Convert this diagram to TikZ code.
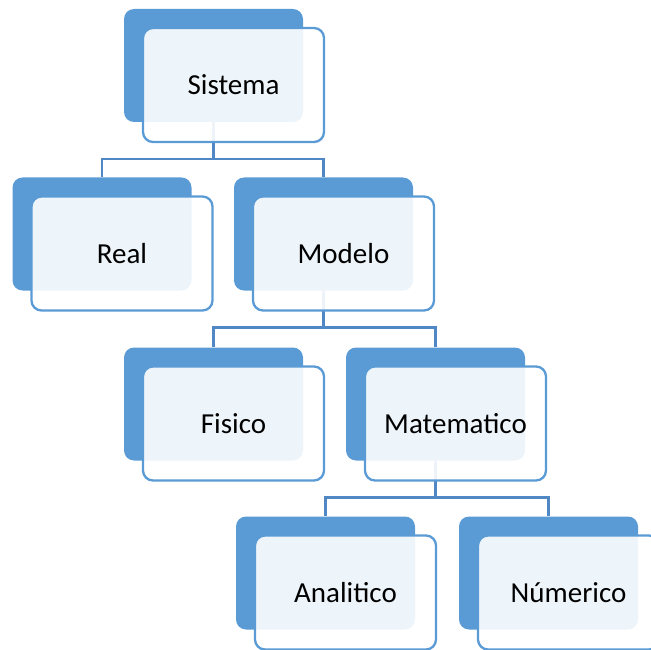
\documentclass[tikz,border=0pt]{standalone}
\usepackage{fontspec}
\setmainfont{Carlito}
\usetikzlibrary{positioning}
\definecolor{smartblue}{RGB}{91,155,213}
\definecolor{linkblue}{RGB}{79,136,196}

\begin{document}
\begin{tikzpicture}[x=1pt,y=-1pt,
  back/.style={rounded corners=10pt, fill=smartblue, minimum width=179pt, minimum height=113pt},
  front/.style={rounded corners=10pt, draw=smartblue, line width=2.3pt, fill=white, fill opacity=0.9, text opacity=1, minimum width=181pt, minimum height=114pt, font=\fontsize{29}{35}\selectfont},
  link/.style={draw=linkblue, line width=2.6pt}]
\clip (0,0) rectangle (651,650);
% back boxes
\node[back] (sis) at (213.5,65.5) {};
\node[back] (real) at (102,234) {};
\node[back] (mod) at (323.5,234) {};
\node[back] (fis) at (213.5,404) {};
\node[back] (mat) at (435.5,404) {};
\node[back] (ana) at (325.5,573) {};
\node[back] (num) at (548.5,573) {};
% connectors
\draw[link] (sis.south) -- ++(0,37) -| (real.north);
\draw[link] (sis.south) -- ++(0,37) -| (mod.north);
\draw[link] (mod.south) -- ++(0,37) -| (fis.north);
\draw[link] (mod.south) -- ++(0,37) -| (mat.north);
\draw[link] (mat.south) -- ++(0,37) -| (ana.north);
\draw[link] (mat.south) -- ++(0,37) -| (num.north);
% front boxes with text
\node[front] (sisf) at ([shift={(20,19.5)}]sis) {Sistema};
\node[front] (realf) at ([shift={(20,19.5)}]real) {Real};
\node[front] (modf) at ([shift={(20,19.5)}]mod) {Modelo};
\node[front] (fisf) at ([shift={(20,19.5)}]fis) {Fisico};
\node[front] (matf) at ([shift={(20,19.5)}]mat) {Matematico};
\node[front] (anaf) at ([shift={(20,19.5)}]ana) {Analitico};
\node[front] (numf) at ([shift={(20,19.5)}]num) {Númerico};
\end{tikzpicture}
\end{document}
